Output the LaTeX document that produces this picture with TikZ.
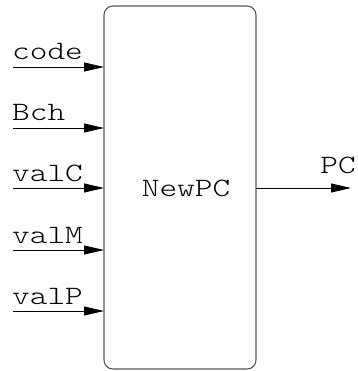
\documentclass[tikz,border=0pt]{standalone}
\usepackage{fontspec}
\newfontfamily\sigfont[FakeStretch=1.27]{Latin Modern Mono Light}
\usetikzlibrary{arrows.meta}
\tikzset{
  blockbox/.style={draw=black!65, line width=1.1pt, rounded corners=9pt},
  sig/.style={draw=black, line width=0.9pt, -{Triangle[length=20pt,width=9pt]}},
  txt/.style={font=\sigfont\fontsize{26.5}{30}\selectfont, inner sep=0pt},
  lbl/.style={txt, anchor=base west},
}
\begin{document}
\begin{tikzpicture}[x=1pt,y=-1pt]
  \useasboundingbox (0,0) rectangle (357,371);
  % central block
  \draw[blockbox] (104,6) rectangle (256,369);
  \node[txt, anchor=base] (blk) at (186,196) {NewPC};
  % input signals
  \foreach \name/\y in {code/67, Bch/128, valC/188, valM/250, valP/311}{
    \coordinate (in-\name) at (13,\y);
    \coordinate (pin-\name) at (104,\y);
    \node[lbl] (l-\name) at (12,\y-7) {\name};
    \draw[sig] (in-\name) -- (pin-\name);
  }
  % output signal
  \coordinate (pout) at (256,188);
  \coordinate (out) at (351,188);
  \node[txt, anchor=base] (l-PC) at (338,173) {PC};
  \draw[sig] (pout) -- (out);
\end{tikzpicture}
\end{document}
